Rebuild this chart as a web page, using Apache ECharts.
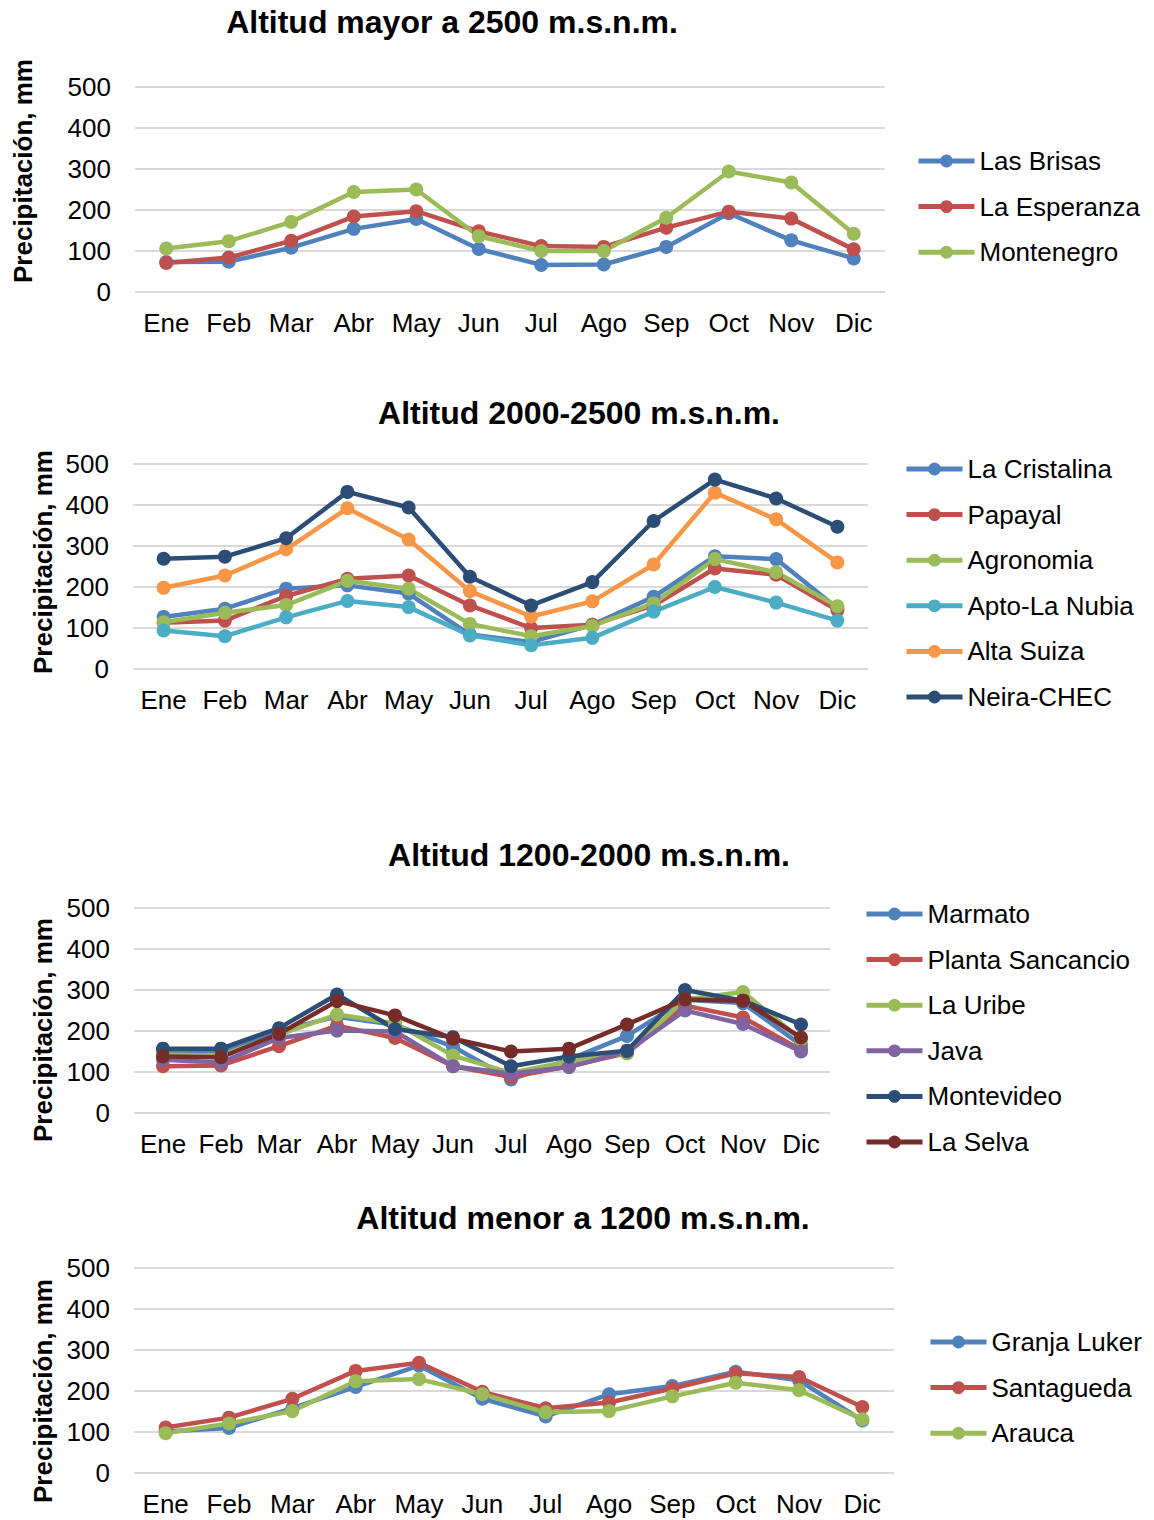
<!DOCTYPE html>
<html>
<head>
<meta charset="utf-8">
<script src="https://cdn.jsdelivr.net/npm/echarts@6/dist/echarts.min.js"></script>
<style>
html,body{margin:0;padding:0;background:#fff;}
#main{width:1154px;height:1520px;}
</style>
</head>
<body>
<div id="main"></div>
<script>
// ---- Data ----
const months = ['Ene','Feb','Mar','Abr','May','Jun','Jul','Ago','Sep','Oct','Nov','Dic'];
const yTicks = [0, 100, 200, 300, 400, 500];

// Altitud mayor a 2500 m.s.n.m.
const lasBrisas   = [73, 74, 108, 154, 178, 105, 66, 67, 110, 192, 126, 82];
const laEsperanza = [71, 84, 125, 184, 197, 148, 112, 110, 157, 196, 179, 104];
const montenegro  = [106, 124, 171, 244, 250, 136, 100, 100, 181, 294, 267, 142];

// Altitud 2000-2500 m.s.n.m.
const laCristalina = [127, 147, 196, 204, 184, 84, 66, 108, 176, 275, 268, 148];
const papayal      = [113, 118, 178, 220, 228, 155, 100, 108, 155, 245, 230, 143];
const agronomia    = [114, 137, 156, 215, 196, 110, 80, 105, 160, 268, 236, 153];
const aptoLaNubia  = [94, 80, 126, 166, 151, 82, 58, 76, 140, 200, 162, 118];
const altaSuiza    = [198, 228, 292, 392, 316, 190, 128, 165, 255, 430, 365, 260];
const neiraChec    = [269, 274, 319, 432, 394, 225, 155, 212, 361, 462, 416, 347];

// Altitud 1200-2000 m.s.n.m.
const marmato         = [150, 150, 201, 235, 215, 162, 82, 130, 188, 276, 268, 166];
const plantaSancancio = [114, 116, 163, 213, 183, 114, 88, 114, 146, 262, 233, 154];
const laUribe         = [142, 140, 191, 240, 219, 140, 98, 126, 146, 277, 295, 179];
const java            = [130, 123, 183, 201, 199, 114, 96, 112, 150, 250, 217, 150];
const montevideo      = [157, 157, 207, 289, 205, 185, 114, 138, 152, 300, 274, 216];
const laSelva         = [138, 136, 193, 273, 238, 181, 150, 157, 216, 277, 274, 184];

// Altitud menor a 1200 m.s.n.m.
const granjaLuker = [101, 110, 158, 210, 262, 181, 138, 192, 212, 247, 226, 128];
const santagueda  = [111, 135, 181, 249, 269, 198, 158, 172, 206, 243, 234, 161];
const arauca      = [97, 121, 151, 224, 229, 192, 148, 151, 187, 220, 202, 131];

const titles = ['Altitud mayor a 2500 m.s.n.m.','Altitud 2000-2500 m.s.n.m.','Altitud 1200-2000 m.s.n.m.','Altitud menor a 1200 m.s.n.m.'];
const yName = 'Precipitación, mm';

const panels = [
  [['Las Brisas', lasBrisas, '#4F81BD'], ['La Esperanza', laEsperanza, '#C0504D'], ['Montenegro', montenegro, '#9BBB59']],
  [['La Cristalina', laCristalina, '#4F81BD'], ['Papayal', papayal, '#C0504D'], ['Agronomia', agronomia, '#9BBB59'],
   ['Apto-La Nubia', aptoLaNubia, '#4BACC6'], ['Alta Suiza', altaSuiza, '#F79646'], ['Neira-CHEC', neiraChec, '#2C4D75']],
  [['Marmato', marmato, '#4F81BD'], ['Planta Sancancio', plantaSancancio, '#C0504D'], ['La Uribe', laUribe, '#9BBB59'],
   ['Java', java, '#8064A2'], ['Montevideo', montevideo, '#2C4D75'], ['La Selva', laSelva, '#772C2A']],
  [['Granja Luker', granjaLuker, '#4F81BD'], ['Santagueda', santagueda, '#C0504D'], ['Arauca', arauca, '#9BBB59']]
];

// ---- Layout ----
const FONT = '"Liberation Sans", Arial, sans-serif';
const grids = [
  {left: 135, top: 87, width: 750, height: 205},
  {left: 133, top: 464, width: 735, height: 205},
  {left: 134, top: 908, width: 696, height: 205},
  {left: 134, top: 1268, width: 760, height: 205}
];
const titlePos = [[452, 6], [579, 397], [589, 839], [583, 1202]];
const yNamePos = [[23, 171], [43, 562], [43, 1030], [43, 1391]];
const legendPos = [[916, 148], [904, 456], [864, 901], [928, 1329]];

const chart = echarts.init(document.getElementById('main'), null, {renderer: 'svg', width: 1154, height: 1520});

const option = {
  animation: false,
  backgroundColor: '#fff',
  title: titles.map((t, i) => ({
    text: t, left: titlePos[i][0], top: titlePos[i][1], textAlign: 'center', padding: 0,
    textStyle: {fontFamily: FONT, fontSize: 32, fontWeight: 'bold', color: '#000'}
  })),
  grid: grids.map(g => Object.assign({containLabel: false}, g)),
  xAxis: grids.map((g, i) => ({
    type: 'category', gridIndex: i, data: months, boundaryGap: true,
    axisLine: {show: false}, axisTick: {show: false},
    axisLabel: {fontFamily: FONT, fontSize: 26, color: '#000', margin: 18, interval: 0}
  })),
  yAxis: grids.map((g, i) => ({
    type: 'value', gridIndex: i, min: yTicks[0], max: yTicks[yTicks.length - 1], interval: 100,
    axisLine: {show: false}, axisTick: {show: false},
    axisLabel: {fontFamily: FONT, fontSize: 26, color: '#000', margin: 24},
    splitLine: {lineStyle: {color: '#D9D9D9', width: 2}}
  })),
  legend: panels.map((p, i) => ({
    orient: 'vertical', left: legendPos[i][0], top: legendPos[i][1],
    data: p.map(s => s[0]), itemWidth: 56, itemHeight: 16, itemGap: 19.6, padding: 0,
    selectedMode: false,
    lineStyle: {width: 5},
    textStyle: {fontFamily: FONT, fontSize: 26, color: '#000', lineHeight: 26}
  })),
  graphic: yNamePos.map(pos => ({
    type: 'text', x: pos[0], y: pos[1], rotation: Math.PI / 2,
    style: {text: yName, font: 'bold 26px ' + FONT, fill: '#000', textAlign: 'center', textVerticalAlign: 'middle'}
  })),
  series: []
};

panels.forEach((p, i) => {
  p.forEach(s => {
    option.series.push({
      type: 'line', name: s[0], data: s[1], xAxisIndex: i, yAxisIndex: i,
      symbol: 'circle', symbolSize: 14, showSymbol: true,
      lineStyle: {width: 4.5, color: s[2]}, itemStyle: {color: s[2]},
      emphasis: {disabled: true}
    });
  });
});

chart.setOption(option);
</script>
</body>
</html>
